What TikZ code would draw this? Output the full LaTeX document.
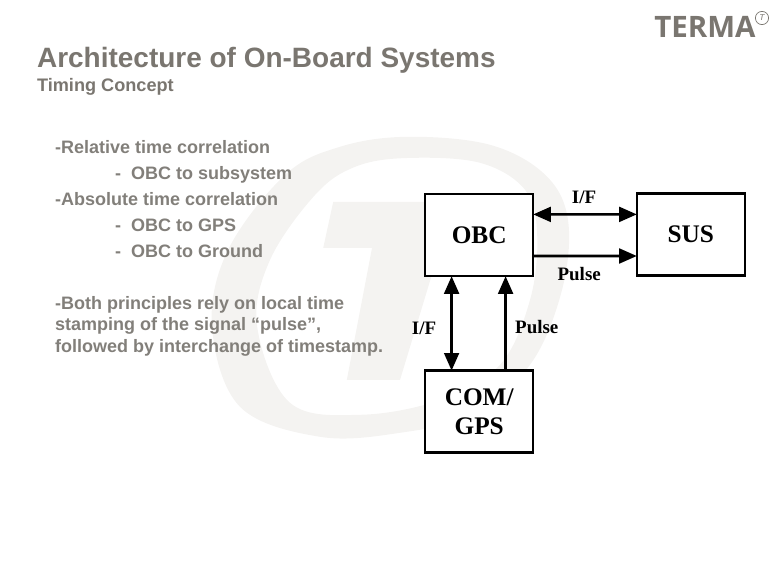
\documentclass[tikz,border=0pt]{standalone}
\usepackage{fontspec}
\setmainfont{Liberation Sans}
\newfontfamily\boxfont{Liberation Serif}
\newfontfamily\logofont{Open Sans}
\usetikzlibrary{arrows.meta}
\definecolor{termagray}{RGB}{122,118,112}
\definecolor{bodygray}{RGB}{130,127,122}
\definecolor{markgray}{RGB}{244,243,241}
\tikzset{
    sysbox/.style={draw=black,line width=1.8pt,fill=white,inner sep=0pt,outer sep=0pt,align=center,minimum width=2.7cm,minimum height=2.05cm,font=\boxfont\bfseries\fontsize{18}{20.4}\selectfont},
    linelabel/.style={inner sep=0pt,font=\boxfont\bfseries\fontsize{13.5}{15}\selectfont},
    slidetext/.style={inner sep=0pt,anchor=base west,text=bodygray,font=\bfseries\fontsize{12.8}{15}\selectfont},
    link/.style={line width=1.8pt,-{Triangle[length=12.5pt,width=10.5pt]}},
    twolink/.style={line width=1.8pt,{Triangle[length=12.5pt,width=10.5pt]}-{Triangle[length=12.5pt,width=10.5pt]}},
}
\begin{document}
\begin{tikzpicture}
    \useasboundingbox (0,0) rectangle (19.5,14.25);
    % watermark
    \fill [markgray,even odd rule]
        plot [smooth cycle,tension=0.6] coordinates {(10.18,10.83) (12.25,10.63) (13.63,9.88) (14.2,8.75) (14.05,7.0) (13.25,5.13) (11.75,3.88) (10,3.43) (8,3.33) (6,4.08) (5.3,6.08) (5.7,8.0) (7.13,9.88) (8.5,10.58)}
        plot [smooth cycle,tension=0.6] coordinates {(10.18,10.3) (12,10.18) (13.13,9.5) (13.43,8.38) (13.25,6.75) (12.5,5.13) (11,4.25) (9,3.88) (7.25,4.18) (6.43,6.08) (6.75,7.75) (7.88,9.38) (8.88,10.08)};
    \fill [markgray] (8.33,9.2) -- (11.5,9.2) -- (11.5,8.05) -- (11,8.05) -- (10,4.75) -- (8.67,4.75) -- (9.3,8.05) -- (8.08,8.05) -- cycle;
    % logo
    \node [inner sep=0pt,anchor=base west,text=termagray,font=\logofont\bfseries\fontsize{21}{21}\selectfont] (logo) at (16.35,13.32) {TERMA};
    \node [draw=termagray,circle,line width=0.5pt,inner sep=0pt,minimum size=0.33cm,text=termagray,font=\fontsize{6}{6}\selectfont\itshape] (logomark) at (19.05,13.8) {T};
    % heading
    \node [slidetext,text=termagray,font=\bfseries\fontsize{19.9}{22}\selectfont] (title) at (0.92,12.55) {Architecture of On-Board Systems};
    \node [slidetext,text=termagray,font=\bfseries\fontsize{12.9}{15}\selectfont] (subtitle) at (0.92,11.95) {Timing Concept};
    % text
    \node [slidetext] (relative) at (1.37,10.4) {-Relative time correlation};
    \node [slidetext] (subsys) at (2.87,9.75) {-\ \ OBC to subsystem};
    \node [slidetext] (absolute) at (1.37,9.1) {-Absolute time correlation};
    \node [slidetext] (gps) at (2.87,8.45) {-\ \ OBC to GPS};
    \node [slidetext] (ground) at (2.87,7.8) {-\ \ OBC to Ground};
    \node [slidetext] (both) at (1.37,6.5) {-Both principles rely on local time};
    \node [slidetext] (stamping) at (1.37,5.98) {stamping of the signal “pulse”,};
    \node [slidetext] (followed) at (1.37,5.44) {followed by interchange of timestamp.};
    % boxes
    \node [sysbox] (obc) at (11.98,8.37) {OBC};
    \node [sysbox] (sus) at (17.27,8.39) {SUS};
    \node [sysbox] (com) at (11.98,3.96) {COM/\\GPS};
    % links
    \draw [twolink] ([yshift=0.52cm]obc.east) -- ([yshift=0.5cm]sus.west);
    \draw [link] ([yshift=-0.52cm]obc.east) -- ([yshift=-0.54cm]sus.west);
    \draw [twolink] ([xshift=-0.69cm]com.north) -- ([xshift=-0.69cm]obc.south);
    \draw [link] ([xshift=0.66cm]com.north) -- ([xshift=0.66cm]obc.south);
    \node [linelabel] (iftop) at (14.6,9.32) {I/F};
    \node [linelabel] (pulsetop) at (14.48,7.4) {Pulse};
    \node [linelabel] (ifleft) at (10.6,6.05) {I/F};
    \node [linelabel] (pulseleft) at (13.42,6.07) {Pulse};
\end{tikzpicture}
\end{document}
